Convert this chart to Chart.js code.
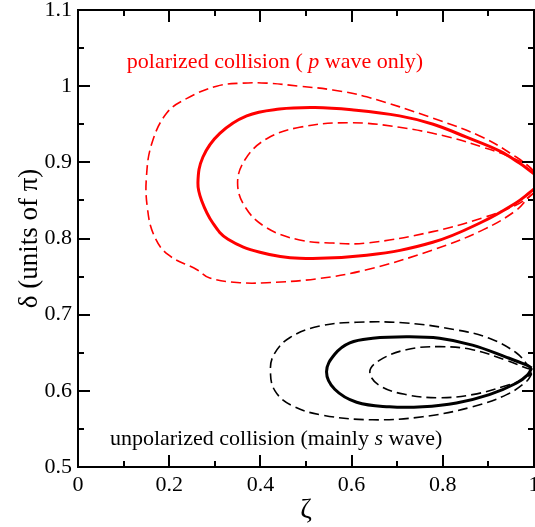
<!DOCTYPE html>
<html><head><meta charset="utf-8">
<script src="https://cdn.jsdelivr.net/npm/chart.js@4.4.1/dist/chart.umd.min.js"></script>
<style>html,body{margin:0;padding:0;background:#fff}#wrap{width:535px;height:527px;position:relative}</style>
</head><body><div id="wrap"><canvas id="c" width="535" height="527"></canvas></div>
<script>
// Tick labels
const xTickLabels = [0, 0.2, 0.4, 0.6, 0.8, 1];
const yTickLabels = [0.5, 0.6, 0.7, 0.8, 0.9, 1, 1.1];

// Polarized (red) contours: [zeta, delta]
const redSolid = [
  [1.0,0.885],[0.968,0.899],[0.924,0.915],[0.852,0.933],[0.779,0.950],[0.705,0.961],[0.60,0.969],[0.52,0.972],[0.442,0.970],[0.370,0.961],[0.311,0.938],[0.274,0.907],[0.263,0.873],[0.271,0.850],[0.296,0.820],[0.329,0.799],[0.399,0.782],[0.486,0.774],[0.633,0.778],[0.778,0.795],[0.887,0.822],[0.961,0.847],[0.99,0.860],[1.0,0.865]
];
const redOuter = [
  [1.0,0.888],[0.99,0.894],[0.961,0.907],[0.887,0.933],[0.778,0.958],[0.633,0.986],[0.559,0.995],[0.486,1.000],[0.414,1.004],[0.361,1.004],[0.304,1.000],[0.239,0.984],[0.195,0.965],[0.162,0.925],[0.150,0.880],[0.152,0.841],[0.166,0.805],[0.197,0.779],[0.261,0.759],[0.289,0.748],[0.355,0.742],[0.414,0.742],[0.523,0.747],[0.633,0.759],[0.778,0.785],[0.887,0.811],[0.961,0.837],[0.99,0.855],[1.0,0.860]
];
const redInner = [
  [1.0,0.888],[0.983,0.897],[0.94,0.909],[0.887,0.920],[0.815,0.933],[0.705,0.946],[0.596,0.952],[0.486,0.946],[0.414,0.931],[0.368,0.905],[0.350,0.873],[0.368,0.840],[0.414,0.814],[0.486,0.798],[0.559,0.794],[0.633,0.794],[0.778,0.809],[0.887,0.827],[0.961,0.844],[0.99,0.855],[1.0,0.860]
];

// Unpolarized (black) contours
const blackSolid = [
  [0.995,0.630],[0.983,0.634],[0.94,0.644],[0.865,0.660],[0.793,0.669],[0.72,0.671],[0.646,0.669],[0.596,0.663],[0.563,0.648],[0.545,0.625],[0.563,0.602],[0.611,0.585],[0.683,0.579],[0.756,0.579],[0.83,0.584],[0.902,0.595],[0.961,0.610],[0.986,0.621],[0.995,0.630]
];
const blackOuter = [
  [0.995,0.628],[0.986,0.634],[0.961,0.650],[0.902,0.669],[0.83,0.680],[0.72,0.689],[0.611,0.690],[0.530,0.685],[0.465,0.670],[0.430,0.648],[0.422,0.625],[0.432,0.600],[0.468,0.581],[0.537,0.568],[0.646,0.562],[0.756,0.566],[0.865,0.579],[0.94,0.595],[0.983,0.612],[0.995,0.622]
];
const blackInner = [
  [0.995,0.628],[0.983,0.630],[0.94,0.640],[0.865,0.654],[0.793,0.658],[0.72,0.654],[0.661,0.640],[0.640,0.625],[0.661,0.607],[0.72,0.595],[0.793,0.591],[0.865,0.595],[0.94,0.607],[0.983,0.617],[0.995,0.624]
];

const toPts = a => a.map(p => ({x:p[0], y:p[1]}));
const serif = "'Liberation Serif','DejaVu Serif',serif";

function ds(data, color, width, dash){
  return {data: toPts(data), showLine:true, borderColor:color, borderWidth:width, borderDash:dash,
    pointRadius:0, tension:0.4, fill:false, clip:false};
}

const frame = {
  id:'frame',
  afterDraw(chart){
    const {ctx, chartArea:a, scales:{x,y}} = chart;
    ctx.save();
    ctx.strokeStyle='#000'; ctx.lineWidth=2;
    ctx.strokeRect(a.left, a.top, a.right-a.left, a.bottom-a.top);
    for(let i=0;i<=10;i++){
      const v = i*0.1;
      const L = i%2===0?12:6;
      const px = Math.round(x.getPixelForValue(v));
      ctx.beginPath();
      ctx.moveTo(px,a.bottom); ctx.lineTo(px,a.bottom-L);
      ctx.moveTo(px,a.top); ctx.lineTo(px,a.top+L);
      ctx.stroke();
    }
    for(let i=0;i<=12;i++){
      const v = 0.5+i*0.05;
      const L = i%2===0?12:6;
      const py = Math.round(y.getPixelForValue(v));
      ctx.beginPath();
      ctx.moveTo(a.left,py); ctx.lineTo(a.left+L,py);
      ctx.moveTo(a.right,py); ctx.lineTo(a.right-L,py);
      ctx.stroke();
    }
    // annotations
    ctx.textBaseline='middle'; ctx.textAlign='left';
    const drawParts = (parts, px, py, color) => {
      let cx = px;
      ctx.fillStyle=color;
      parts.forEach(([t,it])=>{
        ctx.font = (it?'italic ':'')+'22px '+serif;
        ctx.fillText(t, cx, py);
        cx += ctx.measureText(t).width;
      });
    };
    drawParts([['polarized collision ( ',false],['p',true],[' wave only)',false]], x.getPixelForValue(0.107), y.getPixelForValue(1.031), '#ff0000');
    drawParts([['unpolarized collision (mainly ',false],['s',true],[' wave)',false]], x.getPixelForValue(0.07), y.getPixelForValue(0.537), '#000');
    ctx.restore();
  }
};

const fmt = v => String(Number(Number(v).toFixed(2)));

new Chart(document.getElementById('c'), {
  type:'scatter',
  data:{datasets:[
    ds(redOuter,'#ff0000',1.6,[10,5]),
    ds(redInner,'#ff0000',1.6,[10,5]),
    ds(redSolid,'#ff0000',3,[]),
    ds(blackOuter,'#000',1.6,[10,5]),
    ds(blackInner,'#000',1.6,[10,5]),
    ds(blackSolid,'#000',3,[])
  ]},
  plugins:[frame],
  options:{
    responsive:false, animation:false,
    layout:{padding:{top:10,right:1,left:0,bottom:0}},
    plugins:{legend:{display:false}, tooltip:{enabled:false}},
    scales:{
      x:{type:'linear', min:0, max:1, border:{display:false},
        grid:{display:false, drawTicks:false},
        afterBuildTicks(s){ s.ticks = xTickLabels.map(v=>({value:v})); },
        ticks:{padding:5, color:'#000', font:{family:serif,size:22}, callback:fmt, maxRotation:0, autoSkip:false},
        title:{display:true, text:'ζ', color:'#000', font:{family:serif,size:28}, padding:{top:0,bottom:0}},
        afterFit(s){ s.height = 60; s.paddingLeft = 0; s.paddingRight = 0; }
      },
      y:{type:'linear', min:0.5, max:1.1, border:{display:false},
        grid:{display:false, drawTicks:false},
        afterBuildTicks(s){ s.ticks = yTickLabels.map(v=>({value:v})); },
        ticks:{padding:6, color:'#000', font:{family:serif,size:22}, callback:fmt, autoSkip:false},
        title:{display:true, text:'δ (units of π)', color:'#000', font:{family:serif,size:27}, padding:{top:14,bottom:0}},
        afterFit(s){ s.width = 78; s.paddingTop = 0; s.paddingBottom = 0; }
      }
    }
  }
});
</script></body></html>
